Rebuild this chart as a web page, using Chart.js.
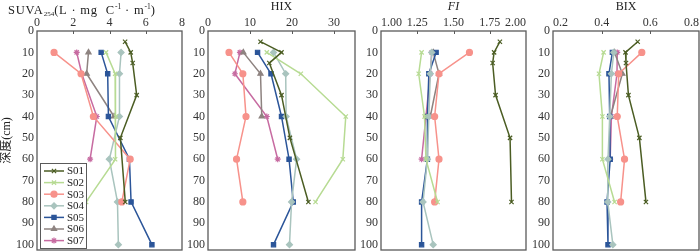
<!DOCTYPE html>
<html>
<head>
<meta charset="utf-8">
<script src="https://cdn.jsdelivr.net/npm/chart.js@4.4.1/dist/chart.umd.min.js"></script>
<style>
  html, body { margin: 0; padding: 0; background: #fff; }
  #lienzo { position: relative; width: 700px; height: 252px; overflow: hidden; }
  .panel { position: absolute; top: 0; width: 0; height: 252px; }
  .panel canvas { display: block; }
  #tituloSuva { position: absolute; left: 8px; top: 0px; font: 12.5px 'Liberation Serif', serif; color: #222; white-space: nowrap; line-height: 14px; letter-spacing: 0.8px; }
  #tituloSuva sub { font-size: 7px; vertical-align: -2px; letter-spacing: 0; }
  #tituloSuva sup { font-size: 7.5px; vertical-align: 5px; letter-spacing: 0; }
</style>
</head>
<body>
<div id="lienzo">
  <div class="panel" style="left:0px"><canvas id="g1" width="192" height="252"></canvas></div>
  <div class="panel" style="left:183px"><canvas id="g2" width="182" height="252"></canvas></div>
  <div class="panel" style="left:356px"><canvas id="g3" width="180" height="252"></canvas></div>
  <div class="panel" style="left:528px"><canvas id="g4" width="172" height="252"></canvas></div>
  <div id="tituloSuva">SUVA<sub>254</sub>(L&nbsp;·&nbsp;mg&nbsp; C<sup>-1</sup>&nbsp;·&nbsp;m<sup>-1</sup>)</div>
</div>
<script>
// datos
const sitios = ['S01', 'S02', 'S03', 'S04', 'S05', 'S06', 'S07'];
const marcasProf = [0, 10, 20, 30, 40, 50, 60, 70, 80, 90, 100];

const profS01 = [5, 10, 15, 30, 50, 80];
const profS02 = [10, 20, 40, 60, 80];
const profS03 = [10, 20, 40, 60, 80];
const profS04 = [10, 20, 40, 60, 80, 100];
const profS05 = [10, 20, 40, 60, 80, 100];
const profS06 = [10, 20, 40];
const profS07 = [10, 20, 40, 60];

const suvaS01 = [4.86, 5.17, 5.28, 5.5, 4.6, 4.87];
const suvaS02 = [3.81, 4.31, 4.35, 4.31, 2.71];
const suvaS03 = [0.94, 2.43, 3.11, 5.14, 4.68];
const suvaS04 = [4.64, 4.55, 4.55, 3.99, 4.44, 4.49];
const suvaS05 = [3.54, 3.9, 3.94, 5.1, 5.19, 6.34];
const suvaS06 = [2.84, 2.74, 4.25];
const suvaS07 = [2.19, 2.47, 3.3, 2.93];
const marcasSuva = [0, 2, 4, 6, 8];

const hixS01 = [12.5, 17.5, 14.6, 17.5, 19.5, 23.9];
const hixS02 = [14, 22.1, 32.8, 32.1, 25.6];
const hixS03 = [5, 8.3, 9.05, 6.8, 8.3];
const hixS04 = [15.6, 18.5, 18.6, 21.1, 19.9, 19.4];
const hixS05 = [11.8, 15, 17.5, 19.3, 20.3, 15.6];
const hixS06 = [8.4, 12.5, 12.8];
const hixS07 = [7.6, 6.4, 14, 16.6];
const marcasHix = [0, 10, 20, 30];

const fiS01 = [1.82, 1.78, 1.77, 1.79, 1.89, 1.9];
const fiS02 = [1.28, 1.26, 1.3, 1.31, 1.39];
const fiS03 = [1.61, 1.4, 1.37, 1.4, 1.37];
const fiS04 = [1.35, 1.34, 1.33, 1.32, 1.29, 1.36];
const fiS05 = [1.38, 1.33, 1.32, 1.32, 1.28, 1.28];
const fiS06 = [1.36, 1.4, 1.34];
const fiS07 = [1.35, 1.34, 1.31, 1.28];
const marcasFi = [1, 1.25, 1.5, 1.75, 2];

const bixS01 = [0.548, 0.498, 0.5, 0.51, 0.555, 0.582];
const bixS02 = [0.408, 0.389, 0.403, 0.403, 0.453];
const bixS03 = [0.565, 0.47, 0.464, 0.494, 0.478];
const bixS04 = [0.45, 0.44, 0.433, 0.426, 0.425, 0.446];
const bixS05 = [0.444, 0.43, 0.433, 0.435, 0.422, 0.426];
const bixS06 = [0.453, 0.485, 0.436];
const bixS07 = [0.464, 0.463, 0.44, 0.435];
const marcasBix = [0.2, 0.4, 0.6, 0.8];

const profundidades = [profS01, profS02, profS03, profS04, profS05, profS06, profS07];

// estilos de cada serie
const colores = ['#4b5d23', '#b7db93', '#f7928b', '#a9c4be', '#2b5599', '#8e8380', '#c76ba1'];
const marcas = ['crossRot', 'crossRot', 'circle', 'rectRot', 'rect', 'triangle', 'star'];

const fuente = { family: "'Liberation Serif', 'Noto Sans CJK SC', serif", size: 12 };
const colorTexto = '#333';
const colorMarco = '#5a5a5a';

// marco y marcas interiores del eje superior
const marco = {
  id: 'marco',
  afterDatasetsDraw(chart) {
    let ctx = chart.ctx;
    let a = chart.chartArea;
    let sx = chart.scales.x;
    ctx.save();
    ctx.strokeStyle = colorMarco;
    ctx.lineWidth = 1.3;
    ctx.strokeRect(a.left, a.top, a.right - a.left, a.bottom - a.top);
    ctx.lineWidth = 1;
    sx.ticks.forEach(t => {
      let px = Math.round(sx.getPixelForValue(t.value)) + 0.5;
      if (px > a.left + 2 && px < a.right - 2) {
        ctx.beginPath();
        ctx.moveTo(px, a.top);
        ctx.lineTo(px, a.top + 3);
        ctx.stroke();
      }
    });
    ctx.restore();
  }
};

// leyenda dibujada dentro del primer panel
const leyenda = {
  id: 'leyenda',
  afterDraw(chart) {
    let ctx = chart.ctx;
    let a = chart.chartArea;
    let x0 = a.left + 3, y0 = a.bottom - 87, w = 46, h = 85;
    ctx.save();
    ctx.fillStyle = '#fff';
    ctx.fillRect(x0, y0, w, h);
    ctx.strokeStyle = colorMarco;
    ctx.lineWidth = 1;
    ctx.strokeRect(x0 + 0.5, y0 + 0.5, w, h);
    chart.data.datasets.forEach((ds, i) => {
      let y = y0 + 8 + i * 11.6;
      ctx.strokeStyle = ds.borderColor;
      ctx.lineWidth = 1.5;
      ctx.beginPath();
      ctx.moveTo(x0 + 4, y);
      ctx.lineTo(x0 + 24, y);
      ctx.stroke();
      if (Chart.helpers && Chart.helpers.drawPoint) {
        ctx.fillStyle = ds.backgroundColor;
        ctx.lineWidth = 1.2;
        Chart.helpers.drawPoint(ctx, { pointStyle: ds.pointStyle, radius: 3, rotation: 0, borderWidth: 1.2 }, x0 + 14, y);
      }
      ctx.fillStyle = '#222';
      ctx.font = "11px 'Liberation Serif', serif";
      ctx.textBaseline = 'middle';
      ctx.textAlign = 'left';
      ctx.fillText(ds.label, x0 + 27, y + 0.5);
    });
    ctx.restore();
  }
};

function armarSeries(valores) {
  return sitios.map((s, i) => ({
    label: s,
    data: profundidades[i].map((d, k) => ({ x: valores[i][k], y: d })),
    borderColor: colores[i],
    backgroundColor: colores[i],
    pointStyle: marcas[i],
    pointRadius: 3,
    pointBorderWidth: 1.2,
    borderWidth: 1.5,
    showLine: true,
    fill: false
  }));
}

function crearPanel(id, cfgPanel) {
  let canvas = document.getElementById(id);
  let plugins = [marco];
  if (cfgPanel.leyenda) plugins.push(leyenda);

  let cfg = {
    type: 'scatter',
    data: { datasets: armarSeries(cfgPanel.valores) },
    options: {
      responsive: false,
      animation: false,
      events: [],
      layout: { autoPadding: false, padding: { left: 0, top: 0, right: cfgPanel.derecha, bottom: 2 } },
      plugins: { legend: { display: false }, tooltip: { enabled: false } },
      scales: {
        x: {
          type: 'linear',
          position: 'top',
          min: cfgPanel.min,
          max: cfgPanel.max,
          afterBuildTicks: s => { s.ticks = cfgPanel.marcasX.map(v => ({ value: v })); },
          afterFit: s => { s.height = 31; s.paddingLeft = 0; s.paddingRight = 0; },
          grid: { display: false, drawTicks: false },
          border: { display: false },
          ticks: {
            padding: 1,
            color: colorTexto,
            font: fuente,
            align: cfgPanel.alinear || 'center',
            maxRotation: 0,
            minRotation: 0,
            autoSkip: false,
            callback: v => Number(v).toFixed(cfgPanel.decimales)
          },
          title: {
            display: cfgPanel.titulo !== '',
            text: cfgPanel.titulo,
            color: '#222',
            padding: { top: 0, bottom: 0 },
            font: { family: fuente.family, size: 12, style: cfgPanel.cursiva ? 'italic' : 'normal' }
          }
        },
        y: {
          type: 'linear',
          reverse: true,
          min: -0.01,
          max: 102.5,
          afterBuildTicks: s => { s.ticks = marcasProf.map(v => ({ value: v })); },
          afterFit: s => { s.width = cfgPanel.anchoY; s.paddingTop = 0; s.paddingBottom = 0; },
          grid: { display: false, drawTicks: false },
          border: { display: false },
          ticks: { padding: 3, color: colorTexto, font: fuente, autoSkip: false, callback: v => String(Math.round(v)) },
          title: {
            display: cfgPanel.ejeY,
            text: '深度(cm)',
            color: '#222',
            padding: { top: 0, bottom: 0 },
            font: { family: fuente.family, size: 12 }
          }
        }
      }
    },
    plugins: plugins
  };

  return new Chart(canvas, cfg);
}

document.addEventListener("DOMContentLoaded", function() {
  crearPanel('g1', {
    valores: [suvaS01, suvaS02, suvaS03, suvaS04, suvaS05, suvaS06, suvaS07],
    min: 0, max: 8, marcasX: marcasSuva, decimales: 0,
    titulo: '', anchoY: 37, derecha: 10, ejeY: true, leyenda: true
  });
  crearPanel('g2', {
    valores: [hixS01, hixS02, hixS03, hixS04, hixS05, hixS06, hixS07],
    min: 0, max: 35, marcasX: marcasHix, decimales: 0,
    titulo: 'HIX', anchoY: 25, derecha: 10, ejeY: false
  });
  crearPanel('g3', {
    valores: [fiS01, fiS02, fiS03, fiS04, fiS05, fiS06, fiS07],
    min: 1, max: 2, marcasX: marcasFi, decimales: 2, alinear: 'inner',
    titulo: 'FI', cursiva: true, anchoY: 25, derecha: 10, ejeY: false
  });
  crearPanel('g4', {
    valores: [bixS01, bixS02, bixS03, bixS04, bixS05, bixS06, bixS07],
    min: 0.2, max: 0.8, marcasX: marcasBix, decimales: 1, alinear: 'inner',
    titulo: 'BIX', anchoY: 25, derecha: 1, ejeY: false
  });
});
</script>
</body>
</html>
